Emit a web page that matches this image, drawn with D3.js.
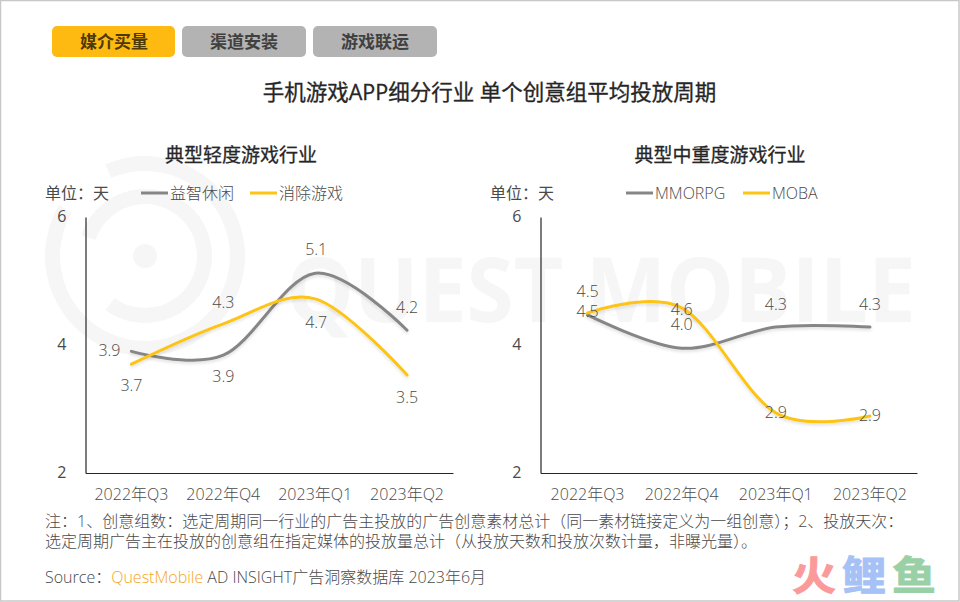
<!DOCTYPE html>
<html><head><meta charset="utf-8">
<script src="https://cdn.jsdelivr.net/npm/d3@7"></script>
<style>
html,body{margin:0;padding:0;background:#fff}
svg{display:block}
text{font-family:"Open Sans","Noto Sans CJK SC",sans-serif;fill:#4a4a4a}
</style></head><body>
<svg id="c" width="960" height="602"></svg>
<script>
const categories=["2022年Q3","2022年Q4","2023年Q1","2023年Q2"];
const tabs=["媒介买量","渠道安装","游戏联运"];
const yTicks=[2,4,6];
const lightTitle="典型轻度游戏行业", heavyTitle="典型中重度游戏行业";
const puzzle=[3.9,3.84,5.12,4.23];
const puzzleLabels=["3.9","3.9","5.1","4.2"];
const match3=[3.7,4.33,4.72,3.53];
const match3Labels=["3.7","4.3","4.7","3.5"];
const mmorpg=[4.47,3.95,4.28,4.28];
const mmorpgLabels=["4.5","4.0","4.3","4.3"];
const moba=[4.5,4.58,2.94,2.89];
const mobaLabels=["4.5","4.6","2.9","2.9"];
const noteLines=["注：1、创意组数：选定周期同一行业的广告主投放的广告创意素材总计（同一素材链接定义为一组创意）；2、投放天次：","选定周期广告主在投放的创意组在指定媒体的投放量总计（从投放天数和投放次数计量，非曝光量）。"];

const GRAY="#868686",YEL="#fdc414";
const svg=d3.select("#c");
const defs=svg.append("defs");
defs.append("filter").attr("id","sh").attr("x","-10%").attr("y","-20%").attr("width","120%").attr("height","150%")
 .append("feDropShadow").attr("dx",0).attr("dy",2).attr("stdDeviation",1.6).attr("flood-color","#000").attr("flood-opacity",.12);

// frame
svg.append("rect").attr("x",.5).attr("y",.5).attr("width",958.5).attr("height",600.5).attr("fill","#fff").attr("stroke","#c8c8c8").attr("stroke-width",1.5);

// watermark
const wm=svg.append("g");
const WM="#f6f6f6";
wm.append("circle").attr("cx",145).attr("cy",256).attr("r",12).attr("fill",WM);
wm.append("path").attr("d",d3.arc()({innerRadius:85,outerRadius:100,startAngle:-Math.PI*.13,endAngle:Math.PI*1.67})).attr("transform","translate(145,256)").attr("fill",WM);
wm.append("path").attr("d",d3.arc()({innerRadius:52,outerRadius:67,startAngle:-Math.PI*.4,endAngle:Math.PI*1.2})).attr("transform","translate(145,256)").attr("fill",WM);
wm.append("text").attr("x",286).attr("y",322).attr("font-size",90).attr("font-weight",700).attr("textLength",630).attr("lengthAdjust","spacingAndGlyphs").style("fill",WM).text("QUEST MOBILE");

// tabs
const tabX=d3.scaleOrdinal().domain(tabs).range([52,182,313]);
const tabG=svg.selectAll(".tab").data(tabs).join("g");
tabG.append("rect").attr("x",d=>tabX(d)).attr("y",26).attr("width",d=>d===tabs[0]?123:124).attr("height",31).attr("rx",5)
 .attr("fill",(d,i)=>i===0?"#ffba12":"#b3b3b3");
tabG.append("text").attr("x",d=>tabX(d)+62).attr("y",47.5).attr("text-anchor","middle").attr("font-size",17).attr("font-weight",700)
 .style("fill",(d,i)=>i===0?"#4d3a05":"#404040").text(d=>d);

// title
svg.append("text").attr("x",489.5).attr("y",100).attr("text-anchor","middle").attr("font-size",21.5).attr("font-weight",400).style("fill","#262626").style("stroke","#262626").style("stroke-width",.3).text("手机游戏APP细分行业 单个创意组平均投放周期");

const curve=d3.curveCardinal.tension(0);
function panel(o){
 const x=d3.scaleBand().domain(categories).range([o.x0,o.x1]);
 const y=d3.scaleLinear().domain([2,6]).range([473,217]);
 const g=svg.append("g");
 g.append("text").attr("x",o.titleX).attr("y",162).attr("text-anchor","middle").attr("font-size",19).attr("font-weight",400).style("fill","#262626").style("stroke","#262626").style("stroke-width",.3).text(o.title);
 g.append("text").attr("x",o.unitX).attr("y",199).attr("font-size",16).text("单位：天");
 // axes
 const ax=g.append("g").attr("transform",`translate(0,473)`).call(d3.axisBottom(x).tickSize(0).tickPadding(16));
 ax.select(".domain").attr("stroke","#262626").attr("stroke-width",1.2);
 ax.selectAll("text").attr("font-size",16).style("font-family",'"Open Sans","Noto Sans CJK SC",sans-serif').style("font-weight",300).attr("fill","#4a4a4a");
 const ay=g.append("g").attr("transform",`translate(${o.x0},0)`).call(d3.axisLeft(y).tickValues(yTicks).tickSize(0).tickPadding(o.tickPad).tickFormat(d3.format("d")));
 ay.select(".domain").attr("stroke","#262626").attr("stroke-width",1.2);
 ay.selectAll("text").attr("font-size",16).style("font-family",'"Open Sans",sans-serif').attr("fill","#262626").attr("dy","0.25em");
 // lines
 const line=d3.line().x((d,i)=>x(categories[i])+x.bandwidth()/2).y(d=>y(d)).curve(curve);
 o.series.forEach(s=>{
  g.append("path").attr("d",line(s.values)).attr("fill","none").attr("stroke",s.color).attr("stroke-width",3).attr("stroke-linecap","round").attr("filter","url(#sh)");
 });
 o.series.forEach(s=>{
  g.selectAll(null).data(s.labels).join("text")
   .attr("x",(d,i)=>x(categories[i])+x.bandwidth()/2+s.dx[i])
   .attr("y",(d,i)=>y(s.values[i])+s.dy[i]+5)
   .attr("text-anchor","middle").attr("font-size",16).attr("font-weight",300).text(d=>d);
 });
 // legend
 o.series.forEach(s=>{
  g.append("line").attr("x1",s.lx).attr("x2",s.lx+27).attr("y1",193).attr("y2",193).attr("stroke",s.color).attr("stroke-width",3);
  g.append("text").attr("x",s.lx+29).attr("y",198.5).attr("font-size",16).attr("font-weight",300).text(s.name);
 });
}
panel({x0:85.5,x1:453,titleX:241,unitX:45,tickPad:19,title:lightTitle,series:[
 {name:"益智休闲",color:GRAY,lx:141,values:puzzle,labels:puzzleLabels,dx:[-22,0,1,0],dy:[0,22,-23,-22],},
 {name:"消除游戏",color:YEL,lx:250,values:match3,labels:match3Labels,dx:[0,0,1,0],dy:[22,-21,24,23]}
]});
panel({x0:540.5,x1:917,titleX:720,unitX:490,tickPad:19,title:heavyTitle,series:[
 {name:"MMORPG",color:GRAY,lx:626,values:mmorpg,labels:mmorpgLabels,dx:[0,0,0,0],dy:[-3,-23,-22,-22]},
 {name:"MOBA",color:YEL,lx:743,values:moba,labels:mobaLabels,dx:[0,0,0,0],dy:[-21,2,0,0]}
]});

// notes
svg.selectAll(".note").data(noteLines).join("text").attr("x",45).attr("y",(d,i)=>527+i*20).attr("font-size",16).attr("font-weight",300).text(d=>d);
const src=svg.append("text").attr("x",45).attr("y",583).attr("font-size",16).attr("font-weight",300);
src.append("tspan").text("Source：");
src.append("tspan").style("fill","#f5a623").text("QuestMobile");
src.append("tspan").text(" AD INSIGHT广告洞察数据库 2023年6月");
// logo
const logo=svg.append("g").attr("font-size",40).attr("font-weight",700).attr("stroke-width",1);
[["火","#fb9a9a",792],["鲤","#a6c1f5",842],["鱼","#9ad0a5",892]].forEach(([t,c,x])=>logo.append("text").attr("x",x).attr("y",590).attr("textLength",44).attr("lengthAdjust","spacingAndGlyphs").style("font-family",'"Noto Sans CJK SC",sans-serif').style("fill",c).style("stroke",c).text(t));
</script></body></html>
